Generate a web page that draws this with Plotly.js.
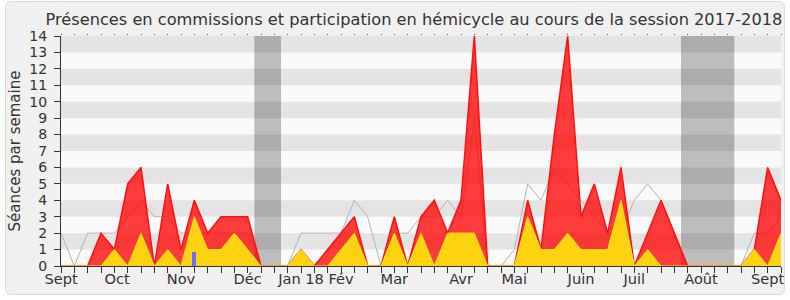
<!DOCTYPE html>
<html><head><meta charset="utf-8">
<script src="https://cdn.plot.ly/plotly-3.0.1.min.js"></script>
<style>
html,body{margin:0;padding:0;background:#fff;}
#frame{position:absolute;left:5px;top:1px;width:778px;height:292px;border:1px solid #d9d9d9;border-radius:6px;background:#f0f0f0;}
#chart{position:absolute;left:0;top:0;width:790px;height:300px;}
</style></head><body>
<div id="frame"></div><div id="chart"></div>
<script>
// weekly values, session 2017-2018 (week index 0 = early Sept 2017)
const hemicycleTotal = [0,0,0,2,1,5,6,0,5,1,4,2,3,3,3,0,0,0,1,0,1,2,3,0,0,3,0,3,4,2,4,14,0,0,0,4,1,8,14,3,5,2,6,0,2,4,2,0,0,0,0,0,1,6,4];
const commission     = [0,0,0,0,1,0,2,0,1,0,3,1,1,2,1,0,0,0,1,0,0,1,2,0,0,2,0,2,0,2,2,2,0,0,0,3,1,1,2,1,1,1,4,0,1,0,0,0,0,0,0,0,1,0,2];
const medianDeputes  = [2,0,2,2,2,3,4,3,3,2,2,2,2,2,2,0,0,0,2,2,2,2,4,3,0,2,2,3,3,4,3,9,0,0,1,5,4,6,5,4,3,2,2,4,5,4,2,0,0,0,0,0,2,2,3];
const questionsWeek = [10];
const questionsVal  = [0.85];
const monthLabels = ['Sept','Oct','Nov','Déc','Jan 18','Fév','Mar','Avr','Mai','Juin','Juil','Août','Sept'];
const monthPos    = [0,4.2,9,14,18,21,25,30,34,39,43,48,53];
const vacations   = [[14.5,16.5],[46.5,50.5]];
const weeks = hemicycleTotal.map((_, i) => i);

const FONT = 'DejaVu Sans';
const shapes = [];
for (let k = 1; k < 14; k += 2) {
  shapes.push({type:'rect', xref:'paper', yref:'y', x0:0, x1:1, y0:k, y1:k+1,
    fillcolor:'#e4e4e4', line:{width:0}, layer:'below'});
}
vacations.forEach(v => shapes.push({type:'rect', xref:'x', yref:'paper', x0:v[0], x1:v[1], y0:0, y1:1,
  fillcolor:'rgba(0,0,0,0.245)', line:{width:0}, layer:'below'}));

const traces = [
  {x:weeks, y:medianDeputes, type:'scatter', mode:'lines', line:{color:'#b4b4b4', width:1}, hoverinfo:'skip'},
  {x:weeks, y:hemicycleTotal, type:'scatter', mode:'lines', fill:'tozeroy',
   fillcolor:'rgba(255,0,0,0.76)', line:{color:'#ff1010', width:1.5}, hoverinfo:'skip'},
  {x:weeks, y:commission, type:'scatter', mode:'lines', fill:'tozeroy',
   fillcolor:'#ffd30f', line:{color:'#ffe81a', width:1}, hoverinfo:'skip'},
  {x:questionsWeek, y:questionsVal, type:'bar', width:0.3, marker:{color:'#6d6dff'}, xaxis:'x2', hoverinfo:'skip'},
  {x:[0], y:[0], type:'scatter', mode:'none', xaxis:'x3', hoverinfo:'skip'}
];

const layout = {
  width:790, height:300,
  margin:{l:61, r:9, t:36, b:34},
  paper_bgcolor:'rgba(0,0,0,0)', plot_bgcolor:'#fafafa',
  showlegend:false,
  font:{family:FONT, color:'#333'},
  title:{text:'Présences en commissions et participation en hémicycle au cours de la session 2017-2018',
    font:{family:FONT, size:16.2, color:'#333'}, xref:'container', x:0.524, xanchor:'center',
    yref:'container', y:0.937, yanchor:'middle'},
  xaxis:{range:[0,54], tickmode:'linear', tick0:0, dtick:1, ticks:'outside', ticklen:6, tickcolor:'#333',
    showticklabels:false, showline:true, linecolor:'#333', linewidth:1, showgrid:false, zeroline:false},
  xaxis2:{overlaying:'x', anchor:'y', range:[0,54], tickmode:'array', tickvals:monthPos, ticktext:monthLabels,
    ticks:'', showline:false, showgrid:false, zeroline:false, side:'bottom', ticklabelstandoff:2,
    tickfont:{family:FONT, size:14.6, color:'#333'}},
  xaxis3:{overlaying:'x', anchor:'y', side:'top', range:[0,54], tickmode:'linear', tick0:0, dtick:1,
    ticks:'outside', ticklen:1, tickcolor:'#555', showticklabels:false, showline:false, showgrid:false, zeroline:false},
  yaxis:{range:[0,14], tickmode:'linear', tick0:0, dtick:1, ticks:'outside', ticklen:6, tickcolor:'#333',
    showline:true, linecolor:'#333', linewidth:1, showgrid:false, zeroline:false, ticklabelstandoff:4,
    tickfont:{family:FONT, size:14, color:'#333'},
    title:{text:'Séances par semaine', font:{family:FONT, size:15, color:'#333'}, standoff:5}},
  bargap:0,
  shapes:shapes
};
Plotly.newPlot('chart', traces, layout, {staticPlot:true, displayModeBar:false});
</script>
</body></html>
